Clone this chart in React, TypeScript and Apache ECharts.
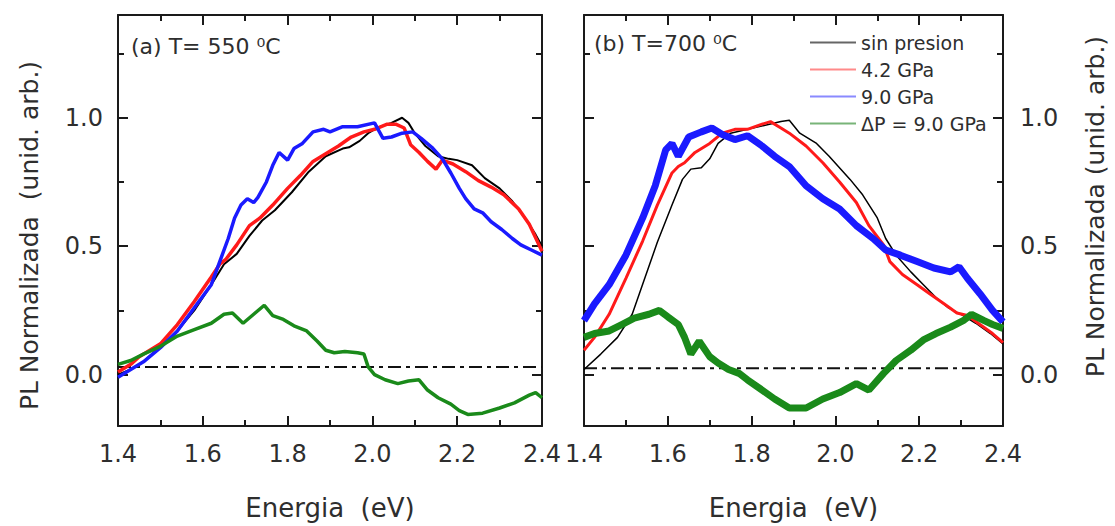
import React, { useEffect, useRef } from "react";
import * as echarts from "echarts";

// ---------- data ----------
const SERIES_NAMES = ["sin presion", "4.2 GPa", "9.0 GPa", "ΔP = 9.0 GPa"];
const SERIES_COLORS = ["#000000", "#ff1a1a", "#1a1aff", "#1a8a1a"];
const LEGEND_COLORS = ["rgba(0,0,0,0.6)", "rgba(255,60,60,0.6)", "rgba(60,60,255,0.6)", "rgba(30,130,30,0.6)"];
const X_TICKS_MIN = 1.4;
const X_TICKS_MAX = 2.4;
const Y_MIN = -0.2;
const Y_MAX = 1.4;
const Y_LABELS = [0, 0.5, 1.0];
const Y_MINOR = [0.25, 0.75, 1.25];
const TITLES = ["(a) T= 550 ⁰C", "(b) T=700 ⁰C"];
const X_NAME = "Energia  (eV)";
const Y_NAME_A = "PL Normalizada  (unid. arb.)";
const Y_NAME_B = "PL Normalizada (unid. arb.)";
const BASELINE_A = 0.03;
const BASELINE_B = 0.025;

const A_black = [
  [1.40, 0.00], [1.43, 0.02], [1.46, 0.05], [1.50, 0.11], [1.54, 0.17], [1.58, 0.25], [1.62, 0.35],
  [1.65, 0.43], [1.68, 0.47], [1.71, 0.54], [1.74, 0.60], [1.77, 0.64], [1.81, 0.71], [1.85, 0.79],
  [1.89, 0.85], [1.93, 0.88], [1.945, 0.885], [1.97, 0.91], [1.99, 0.94], [2.01, 0.96], [2.045, 0.98],
  [2.07, 1.00], [2.085, 0.98], [2.10, 0.94], [2.125, 0.89], [2.155, 0.85], [2.18, 0.84], [2.20, 0.835],
  [2.235, 0.815], [2.265, 0.765], [2.30, 0.725], [2.33, 0.675], [2.36, 0.61], [2.385, 0.545], [2.40, 0.50],
];
const A_red = [
  [1.40, 0.01], [1.43, 0.04], [1.45, 0.07], [1.50, 0.12], [1.54, 0.195], [1.58, 0.285], [1.62, 0.38],
  [1.64, 0.43], [1.655, 0.45], [1.68, 0.505], [1.71, 0.58], [1.735, 0.61], [1.765, 0.66], [1.80, 0.725],
  [1.83, 0.775], [1.86, 0.83], [1.89, 0.86], [1.92, 0.89], [1.95, 0.925], [1.98, 0.945], [2.005, 0.955],
  [2.035, 0.975], [2.055, 0.975], [2.075, 0.96], [2.09, 0.895], [2.11, 0.865], [2.13, 0.83], [2.15, 0.80],
  [2.165, 0.835], [2.19, 0.82], [2.22, 0.79], [2.25, 0.755], [2.28, 0.73], [2.31, 0.70], [2.345, 0.645],
  [2.37, 0.585], [2.40, 0.48],
];
const A_blue = [
  [1.40, -0.01], [1.43, 0.02], [1.46, 0.05], [1.50, 0.105], [1.54, 0.17], [1.58, 0.26], [1.62, 0.35],
  [1.64, 0.44], [1.66, 0.53], [1.675, 0.61], [1.69, 0.66], [1.705, 0.685], [1.72, 0.67], [1.73, 0.69],
  [1.75, 0.75], [1.765, 0.815], [1.78, 0.865], [1.80, 0.835], [1.815, 0.88], [1.835, 0.90], [1.86, 0.945],
  [1.885, 0.955], [1.90, 0.945], [1.93, 0.965], [1.965, 0.965], [2.005, 0.98], [2.025, 0.92], [2.045, 0.925],
  [2.07, 0.94], [2.095, 0.945], [2.115, 0.92], [2.14, 0.885], [2.165, 0.84], [2.185, 0.785], [2.205, 0.725],
  [2.22, 0.685], [2.24, 0.645], [2.26, 0.63], [2.28, 0.595], [2.305, 0.565], [2.33, 0.53], [2.35, 0.505],
  [2.375, 0.485], [2.40, 0.465],
];
const A_green = [
  [1.40, 0.04], [1.43, 0.055], [1.46, 0.08], [1.50, 0.11], [1.54, 0.15], [1.58, 0.175], [1.62, 0.20],
  [1.65, 0.235], [1.67, 0.24], [1.695, 0.20], [1.72, 0.235], [1.745, 0.27], [1.765, 0.23], [1.79, 0.215],
  [1.815, 0.19], [1.845, 0.17], [1.87, 0.13], [1.89, 0.095], [1.91, 0.085], [1.935, 0.09], [1.965, 0.085],
  [1.98, 0.08], [1.99, 0.03], [2.005, 0.00], [2.03, -0.02], [2.06, -0.035], [2.085, -0.025], [2.11, -0.02],
  [2.13, -0.06], [2.155, -0.09], [2.185, -0.115], [2.205, -0.14], [2.225, -0.155], [2.26, -0.15],
  [2.30, -0.13], [2.335, -0.11], [2.37, -0.08], [2.385, -0.07], [2.40, -0.09],
];

const B_black = [
  [1.40, 0.02], [1.44, 0.08], [1.48, 0.145], [1.515, 0.235], [1.545, 0.375], [1.575, 0.515], [1.61, 0.66],
  [1.635, 0.76], [1.655, 0.80], [1.68, 0.805], [1.70, 0.84], [1.72, 0.90], [1.75, 0.94], [1.79, 0.955],
  [1.83, 0.97], [1.87, 0.985], [1.89, 0.99], [1.915, 0.94], [1.955, 0.90], [1.985, 0.85], [2.035, 0.76],
  [2.065, 0.70], [2.10, 0.61], [2.12, 0.53], [2.145, 0.465], [2.18, 0.40], [2.21, 0.35], [2.24, 0.30],
  [2.27, 0.26], [2.305, 0.23], [2.335, 0.20], [2.37, 0.16], [2.40, 0.12],
];
const B_red = [
  [1.40, 0.095], [1.425, 0.145], [1.46, 0.235], [1.50, 0.375], [1.54, 0.52], [1.575, 0.66], [1.61, 0.785],
  [1.625, 0.81], [1.64, 0.825], [1.665, 0.865], [1.70, 0.90], [1.73, 0.94], [1.76, 0.955], [1.79, 0.955],
  [1.825, 0.975], [1.845, 0.985], [1.87, 0.96], [1.89, 0.94], [1.93, 0.89], [1.97, 0.825], [2.01, 0.75],
  [2.05, 0.67], [2.08, 0.58], [2.115, 0.505], [2.13, 0.44], [2.16, 0.39], [2.195, 0.35], [2.225, 0.315],
  [2.26, 0.275], [2.29, 0.24], [2.315, 0.23], [2.345, 0.195], [2.375, 0.16], [2.40, 0.125],
];
const B_blue = [
  [1.40, 0.21], [1.425, 0.275], [1.46, 0.35], [1.50, 0.465], [1.54, 0.61], [1.57, 0.735], [1.595, 0.875],
  [1.61, 0.90], [1.625, 0.85], [1.65, 0.925], [1.68, 0.945], [1.705, 0.96], [1.73, 0.935], [1.76, 0.915],
  [1.79, 0.93], [1.825, 0.89], [1.855, 0.85], [1.89, 0.81], [1.93, 0.735], [1.97, 0.685], [2.01, 0.645],
  [2.05, 0.58], [2.09, 0.53], [2.12, 0.485], [2.155, 0.465], [2.195, 0.44], [2.235, 0.415], [2.275, 0.40],
  [2.295, 0.42], [2.315, 0.375], [2.345, 0.315], [2.375, 0.25], [2.40, 0.205],
];
const B_green = [
  [1.40, 0.145], [1.425, 0.16], [1.46, 0.17], [1.49, 0.195], [1.52, 0.22], [1.555, 0.235], [1.58, 0.25],
  [1.60, 0.225], [1.625, 0.195], [1.64, 0.145], [1.655, 0.08], [1.675, 0.13], [1.70, 0.07], [1.72, 0.045],
  [1.745, 0.02], [1.77, 0.005], [1.79, -0.02], [1.825, -0.06], [1.855, -0.095], [1.89, -0.13], [1.93, -0.13],
  [1.97, -0.095], [2.01, -0.07], [2.05, -0.035], [2.08, -0.06], [2.115, 0.005], [2.145, 0.055], [2.18, 0.095],
  [2.21, 0.135], [2.24, 0.16], [2.275, 0.185], [2.305, 0.21], [2.325, 0.235], [2.355, 0.21], [2.375, 0.195],
  [2.40, 0.18],
];

const PANEL_DATA = [
  [A_black, A_red, A_blue, A_green],
  [B_black, B_red, B_blue, B_green],
];
const BASELINES = [BASELINE_A, BASELINE_B];

// ---------- styling ----------
const FONT = '"DejaVu Sans", "Liberation Sans", sans-serif';
const AXIS_COLOR = "#1a1a1a";
const TEXT_COLOR = "#2e2e2e";
const LINE_WIDTHS = [
  [2, 3.5, 3.5, 3.5],
  [1.5, 3, 7, 7],
];

function buildOption() {
  const grids = [
    { left: 118, top: 15, width: 424, height: 414 },
    { left: 584, top: 15, width: 419, height: 414 },
  ];
  const lineStyle = { color: AXIS_COLOR, width: 2 };
  const fmt = (v: number) => v.toFixed(1);

  const xAxis: any[] = [];
  const yAxis: any[] = [];
  const series: any[] = [];

  [0, 1].forEach((g) => {
    const baseX = {
      gridIndex: g,
      type: "value",
      min: X_TICKS_MIN,
      max: X_TICKS_MAX,
      interval: 0.2,
      splitLine: { show: false },
      minorSplitLine: { show: false },
      axisLine: { show: true, onZero: false, lineStyle },
      axisTick: { show: true, inside: true, length: 10, lineStyle },
      minorTick: { show: true, splitNumber: 2, length: 6, lineStyle },
    };
    xAxis.push({
      ...baseX,
      position: "bottom",
      name: X_NAME,
      nameLocation: "middle",
      nameGap: 69,
      nameTextStyle: { fontSize: 26, color: TEXT_COLOR, fontFamily: FONT },
      axisLabel: { show: true, fontSize: 24, color: TEXT_COLOR, margin: 16, fontFamily: FONT, formatter: fmt },
    });
    xAxis.push({ ...baseX, position: "top", axisLabel: { show: false } });

    const baseY = {
      gridIndex: g,
      type: "value",
      min: Y_MIN,
      max: Y_MAX,
      splitLine: { show: false },
    };
    yAxis.push({
      ...baseY,
      position: "left",
      axisLine: { show: true, onZero: false, lineStyle },
      axisTick: { show: true, inside: true, length: 10, customValues: Y_LABELS, lineStyle },
      axisLabel: {
        show: g === 0,
        customValues: Y_LABELS,
        fontSize: 24,
        color: TEXT_COLOR,
        margin: 15,
        fontFamily: FONT,
        formatter: fmt,
      },
      name: g === 0 ? Y_NAME_A : "",
      nameLocation: "middle",
      nameRotate: 90,
      nameGap: 76,
      nameTextStyle: { fontSize: 25, color: TEXT_COLOR, fontFamily: FONT, padding: [0, 30, 0, 0] },
    });
    yAxis.push({
      ...baseY,
      position: "left",
      axisLine: { show: false },
      axisTick: { show: true, inside: true, length: 6, customValues: Y_MINOR, lineStyle },
      axisLabel: { show: false },
    });
    yAxis.push({
      ...baseY,
      position: "right",
      axisLine: { show: true, onZero: false, lineStyle },
      axisTick: { show: true, inside: true, length: 10, customValues: Y_LABELS, lineStyle },
      axisLabel: {
        show: g === 1,
        customValues: Y_LABELS,
        fontSize: 24,
        color: TEXT_COLOR,
        margin: 17,
        fontFamily: FONT,
        formatter: fmt,
      },
      name: g === 1 ? Y_NAME_B : "",
      nameLocation: "middle",
      nameRotate: 90,
      nameGap: 80,
      nameTextStyle: { fontSize: 25, color: TEXT_COLOR, fontFamily: FONT, padding: [0, 0, 0, 28] },
    });
    yAxis.push({
      ...baseY,
      position: "right",
      axisLine: { show: false },
      axisTick: { show: true, inside: true, length: 6, customValues: Y_MINOR, lineStyle },
      axisLabel: { show: false },
    });

    series.push({
      type: "line",
      name: "baseline",
      xAxisIndex: g * 2,
      yAxisIndex: g * 4,
      data: [
        [X_TICKS_MIN, BASELINES[g]],
        [X_TICKS_MAX, BASELINES[g]],
      ],
      symbol: "none",
      silent: true,
      lineStyle: { color: "#111", width: 2, type: [13, 5, 4, 5] },
      z: 1,
    });

    PANEL_DATA[g].forEach((d, i) => {
      series.push({
        type: "line",
        name: SERIES_NAMES[i],
        xAxisIndex: g * 2,
        yAxisIndex: g * 4,
        data: d,
        symbol: "none",
        showSymbol: false,
        color: SERIES_COLORS[i],
        lineStyle: { color: SERIES_COLORS[i], width: LINE_WIDTHS[g][i] },
        z: 2 + i,
      });
    });
  });

  return {
    animation: false,
    backgroundColor: "#ffffff",
    grid: grids,
    xAxis,
    yAxis,
    series,
    title: [
      {
        text: TITLES[0],
        left: 131,
        top: 35,
        padding: 0,
        textStyle: { fontSize: 22, fontWeight: "normal", color: TEXT_COLOR, fontFamily: FONT },
      },
      {
        text: TITLES[1],
        left: 594,
        top: 32,
        padding: 0,
        textStyle: { fontSize: 22, fontWeight: "normal", color: TEXT_COLOR, fontFamily: FONT },
      },
    ],
    legend: {
      orient: "vertical",
      left: 810,
      top: 33,
      padding: 0,
      itemGap: 8,
      itemWidth: 46,
      itemHeight: 2,
      icon: "rect",
      textStyle: { fontSize: 19, color: TEXT_COLOR, fontFamily: FONT },
      data: SERIES_NAMES.map((n, i) => ({ name: n, itemStyle: { color: LEGEND_COLORS[i] } })),
    },
  };
}

export default function App() {
  const ref = useRef<HTMLDivElement>(null);
  useEffect(() => {
    if (!ref.current) return;
    const chart = echarts.init(ref.current, null, { renderer: "svg" });
    chart.setOption(buildOption() as any);
    return () => chart.dispose();
  }, []);
  return (
    <div
      ref={ref}
      style={{ position: "absolute", left: 0, top: 0, width: 1115, height: 526, background: "#fff" }}
    />
  );
}
